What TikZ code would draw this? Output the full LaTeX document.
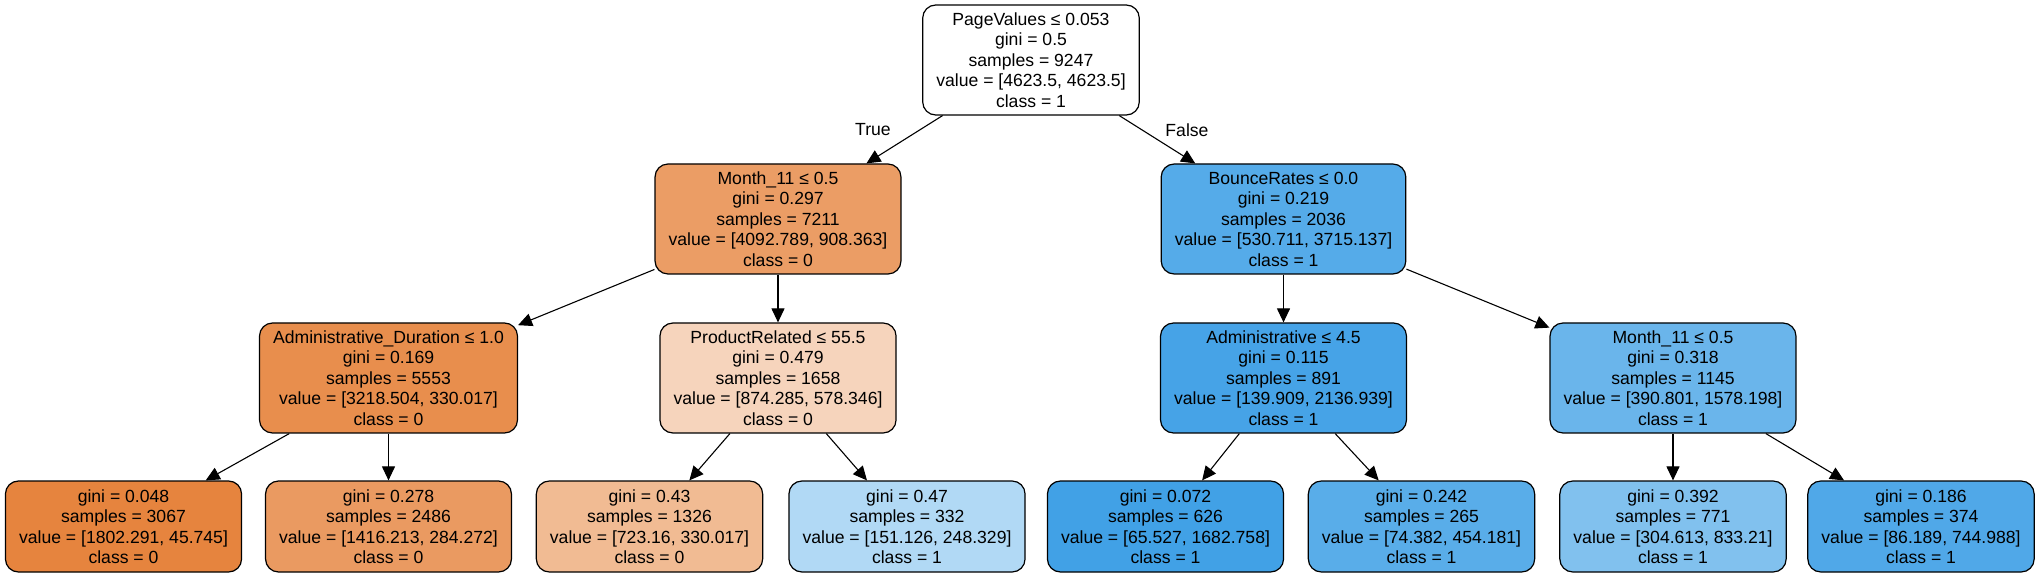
\documentclass[tikz,border=0pt]{standalone}
\usepackage{fontspec}
\setmainfont{Liberation Sans}
\usetikzlibrary{arrows.meta}

% Цвета узлов
\definecolor{fm11}{HTML}{EB9D65}
\definecolor{fad}{HTML}{E88E4D}
\definecolor{fpr}{HTML}{F6D4BC}
\definecolor{fbr}{HTML}{55ABE9}
\definecolor{fadm}{HTML}{46A3E7}
\definecolor{fmr}{HTML}{6AB5EB}
\definecolor{fla}{HTML}{E6843E}
\definecolor{flb}{HTML}{EA9A61}
\definecolor{flc}{HTML}{F1BB93}
\definecolor{fld}{HTML}{B1D9F5}
\definecolor{fle}{HTML}{41A1E6}
\definecolor{flf}{HTML}{59ADE9}
\definecolor{flg}{HTML}{81C1EE}
\definecolor{flh}{HTML}{50A8E8}

\tikzset{
  tnode/.style={draw=black, line width=0.6pt, rounded corners=6.5pt, align=center,
    inner xsep=6.8pt, font=\fontsize{8.8}{10.25}\selectfont},
  split/.style={tnode, minimum height=55pt},
  leaf/.style={tnode, minimum height=45.5pt},
  arr/.style={-{Triangle[length=7pt,width=6.5pt]}, line width=0.55pt}
}

\begin{document}
\begin{tikzpicture}[x=0.5pt,y=-0.5pt]

\useasboundingbox (0,0) rectangle (2042,577);

% Корень
\node[split, fill=white] (root) at (1031,60)
  {PageValues ≤ 0.053\\gini = 0.5\\samples = 9247\\value = [4623.5, 4623.5]\\class = 1};

% Первый уровень
\node[split, fill=fm11] (m11) at (778,219)
  {Month\_11 ≤ 0.5\\gini = 0.297\\samples = 7211\\value = [4092.789, 908.363]\\class = 0};
\node[split, fill=fbr] (br) at (1283.5,219)
  {BounceRates ≤ 0.0\\gini = 0.219\\samples = 2036\\value = [530.711, 3715.137]\\class = 1};

% Второй уровень
\node[split, fill=fad] (ad) at (388.5,378)
  {Administrative\_Duration ≤ 1.0\\gini = 0.169\\samples = 5553\\value = [3218.504, 330.017]\\class = 0};
\node[split, fill=fpr] (pr) at (778,378)
  {ProductRelated ≤ 55.5\\gini = 0.479\\samples = 1658\\value = [874.285, 578.346]\\class = 0};
\node[split, fill=fadm] (adm) at (1283.5,378)
  {Administrative ≤ 4.5\\gini = 0.115\\samples = 891\\value = [139.909, 2136.939]\\class = 1};
\node[split, fill=fmr] (mr) at (1673,378)
  {Month\_11 ≤ 0.5\\gini = 0.318\\samples = 1145\\value = [390.801, 1578.198]\\class = 1};

% Листья
\node[leaf, fill=fla] (la) at (123.5,526.5)
  {gini = 0.048\\samples = 3067\\value = [1802.291, 45.745]\\class = 0};
\node[leaf, fill=flb] (lb) at (388.5,526.5)
  {gini = 0.278\\samples = 2486\\value = [1416.213, 284.272]\\class = 0};
\node[leaf, fill=flc] (lc) at (649.5,526.5)
  {gini = 0.43\\samples = 1326\\value = [723.16, 330.017]\\class = 0};
\node[leaf, fill=fld] (ld) at (907,526.5)
  {gini = 0.47\\samples = 332\\value = [151.126, 248.329]\\class = 1};
\node[leaf, fill=fle] (le) at (1165.5,526.5)
  {gini = 0.072\\samples = 626\\value = [65.527, 1682.758]\\class = 1};
\node[leaf, fill=flf] (lf) at (1421.5,526.5)
  {gini = 0.242\\samples = 265\\value = [74.382, 454.181]\\class = 1};
\node[leaf, fill=flg] (lg) at (1673,526.5)
  {gini = 0.392\\samples = 771\\value = [304.613, 833.21]\\class = 1};
\node[leaf, fill=flh] (lh) at (1921,526.5)
  {gini = 0.186\\samples = 374\\value = [86.189, 744.988]\\class = 1};

% Рёбра
\foreach \a/\b in {root/m11,root/br,m11/ad,m11/pr,br/adm,br/mr,
                   ad/la,ad/lb,pr/lc,pr/ld,adm/le,adm/lf,mr/lg,mr/lh}
{
    \draw[arr] (\a) -- (\b);
}

% Подписи True / False
\node[font=\fontsize{8.8}{10.25}\selectfont] (truelbl) at (873,130) {True};
\node[font=\fontsize{8.8}{10.25}\selectfont] (falselbl) at (1187,130) {False};

\end{tikzpicture}
\end{document}
